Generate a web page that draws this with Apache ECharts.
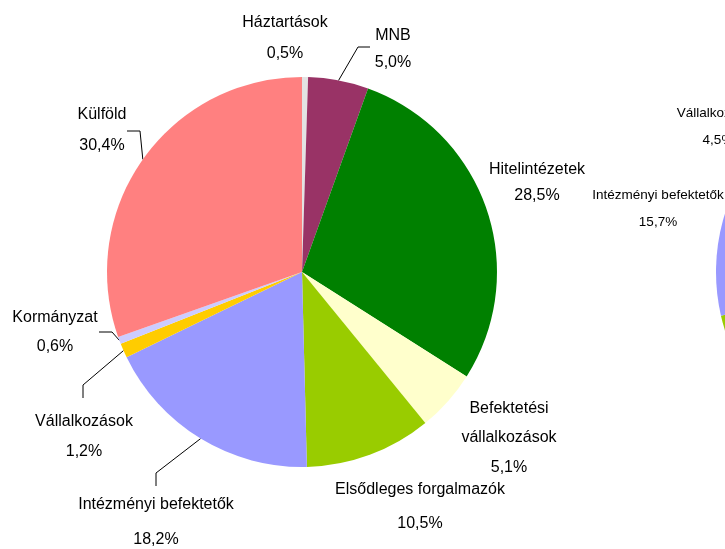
<!DOCTYPE html>
<html>
<head>
<meta charset="utf-8">
<script src="https://cdn.jsdelivr.net/npm/echarts@6/dist/echarts.min.js"></script>
<style>
html,body{margin:0;padding:0;background:#fff;}
#chart{width:725px;height:549px;}
</style>
</head>
<body>
<div id="chart"></div>
<script>
// ---- data ----
const categories = ['Háztartások', 'MNB', 'Hitelintézetek', 'Befektetési vállalkozások', 'Elsődleges forgalmazók', 'Intézményi befektetők', 'Vállalkozások', 'Kormányzat', 'Külföld'];
const labelNames = ['Háztartások', 'MNB', 'Hitelintézetek', 'Befektetési\nvállalkozások', 'Elsődleges forgalmazók', 'Intézményi befektetők', 'Vállalkozások', 'Kormányzat', 'Külföld'];
const sharesLeft = [0.5, 5.0, 28.5, 5.1, 10.5, 18.2, 1.2, 0.6, 30.4];
const sharesRight = [0.5, 4.0, 30.0, 6.0, 30.9, 15.7, 4.5, 1.0, 7.4];
const colors = ['#e3e3e3', '#993366', '#008000', '#ffffcc', '#99cc00', '#9999ff', '#ffcc00', '#ccccff', '#ff8080'];

// ---- label placement (layout, not data) ----
const layoutLeft = [
  {x: 285, y: 38, lh: 31},
  {x: 393, y: 49, lh: 27, line: [[358, 47], [370, 47]]},
  {x: 537, y: 183, lh: 26},
  {x: 509, y: 438, lh: 29.5},
  {x: 420, y: 507, lh: 34},
  {x: 156, y: 522, lh: 35, line: [[156, 473], [156, 486]]},
  {x: 84, y: 437, lh: 30, line: [[83, 385], [83, 398]]},
  {x: 55, y: 332, lh: 29, line: [[112, 332], [99, 332]]},
  {x: 102, y: 130, lh: 31, line: [[140, 131], [127, 131]]}
];
const layoutRight = {
  5: {x: 658, y: 209, lh: 27},
  6: {x: 718, y: 127, lh: 27}
};

function fmt(i, v) {
  return labelNames[i] + '\n' + v.toFixed(1).replace('.', ',') + '%';
}

const chart = echarts.init(document.getElementById('chart'), null, {renderer: 'canvas'});

const dataLeft = categories.map((c, i) => ({
  name: c,
  value: sharesLeft[i],
  itemStyle: {color: colors[i]},
  label: {lineHeight: layoutLeft[i].lh},
  labelLine: {show: !!layoutLeft[i].line}
}));

const dataRight = categories.map((c, i) => ({
  name: c,
  value: sharesRight[i],
  itemStyle: {color: colors[i]},
  label: layoutRight[i] ? {show: true, lineHeight: layoutRight[i].lh} : {show: false},
  labelLine: {show: false}
}));

chart.setOption({
  backgroundColor: '#ffffff',
  animation: false,
  series: [
    {
      type: 'pie',
      center: [302, 272],
      radius: 195,
      startAngle: 90,
      clockwise: true,
      avoidLabelOverlap: false,
      data: dataLeft,
      label: {
        show: true,
        position: 'outside',
        fontFamily: 'Liberation Sans, Arial, sans-serif',
        fontSize: 16,
        color: '#000',
        align: 'center',
        formatter: p => fmt(p.dataIndex, p.value)
      },
      labelLine: {show: true, length: 10, length2: 10, smooth: false, lineStyle: {color: '#000', width: 1}},
      labelLayout: function (params) {
        const p = layoutLeft[params.dataIndex];
        const r = {x: p.x, y: p.y, align: 'center', verticalAlign: 'middle'};
        if (p.line && params.labelLinePoints) {
          r.labelLinePoints = [params.labelLinePoints[0], p.line[0], p.line[1]];
        }
        return r;
      }
    },
    {
      type: 'pie',
      center: [911, 272],
      radius: 195,
      startAngle: 90,
      clockwise: true,
      avoidLabelOverlap: false,
      data: dataRight,
      label: {
        position: 'outside',
        fontFamily: 'Liberation Sans, Arial, sans-serif',
        fontSize: 13.5,
        color: '#000',
        align: 'center',
        formatter: p => fmt(p.dataIndex, p.value)
      },
      labelLine: {show: false},
      labelLayout: function (params) {
        const p = layoutRight[params.dataIndex];
        if (!p) return {};
        return {x: p.x, y: p.y, align: 'center', verticalAlign: 'middle'};
      }
    }
  ]
});
</script>
</body>
</html>
